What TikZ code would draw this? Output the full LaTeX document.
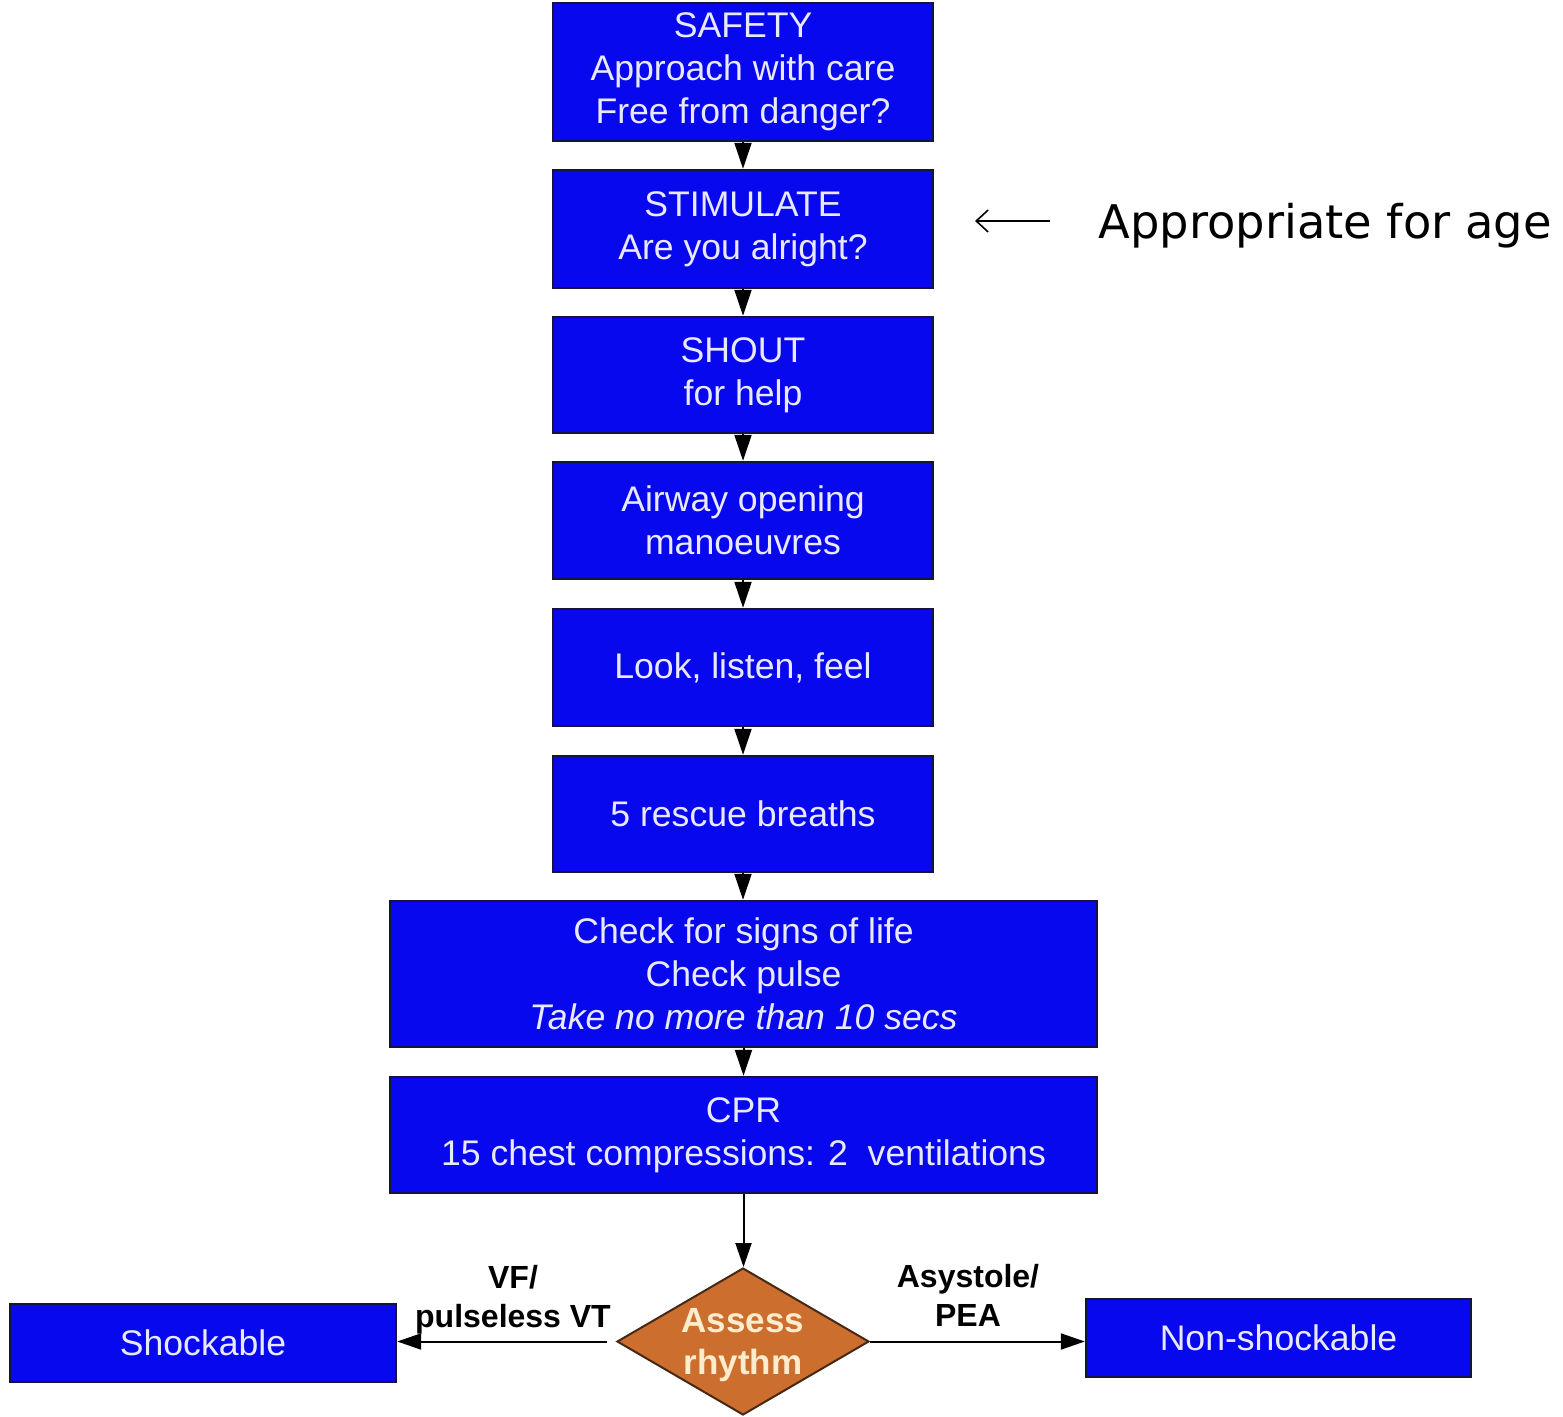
\documentclass[tikz,border=0pt]{standalone}
\usepackage{fontspec}
\setmainfont{Liberation Sans}
\newfontfamily\agefont{DejaVu Sans}
\usetikzlibrary{shapes.geometric,arrows.meta}
\definecolor{boxblue}{RGB}{8,8,238}
\definecolor{boxtext}{RGB}{232,232,255}
\definecolor{boxedge}{RGB}{20,20,60}
\definecolor{dfill}{RGB}{204,110,46}
\definecolor{dedge}{RGB}{70,40,20}
\definecolor{dtext}{RGB}{255,236,205}
\tikzset{
  stepbox/.style={draw=boxedge, line width=1.2pt, fill=boxblue, text=boxtext, inner sep=0pt,
    align=center, font=\fontsize{17.8}{21.5}\selectfont},
  flow/.style={line width=1pt, -{Triangle[width=8.5pt,length=13pt]}},
  side/.style={line width=1pt, -{Triangle[width=8pt,length=12pt]}},
  lbl/.style={align=center, font=\bfseries\fontsize{16}{19.5}\selectfont, inner sep=0pt}
}
\begin{document}
\begin{tikzpicture}[x=0.5pt,y=-0.5pt]
\useasboundingbox (0,0) rectangle (1563,1417);
\node[stepbox, minimum width=190pt, minimum height=69pt] (safety) at (743,72)
  {SAFETY\\Approach with care\\Free from danger?};
\node[stepbox, minimum width=190pt, minimum height=59pt] (stim) at (743,229)
  {STIMULATE\\Are you alright?};
\node[stepbox, minimum width=190pt, minimum height=58pt] (shout) at (743,375)
  {SHOUT\\for help};
\node[stepbox, minimum width=190pt, minimum height=58.5pt] (airway) at (743,520.5)
  {Airway opening\\manoeuvres};
\node[stepbox, minimum width=190pt, minimum height=58.5pt] (look) at (743,667.5)
  {Look, listen, feel};
\node[stepbox, minimum width=190pt, minimum height=58pt] (rescue) at (743,814)
  {5 rescue breaths};
\node[stepbox, minimum width=353.5pt, minimum height=73pt] (check) at (743.5,974)
  {Check for signs of life\\Check pulse\\\textit{Take no more than 10 secs}};
\node[stepbox, minimum width=353.5pt, minimum height=58pt] (cpr) at (743.5,1135)
  {CPR\\15 chest compressions: 2~~ventilations};
\node[diamond, draw=dedge, line width=1pt, fill=dfill, minimum width=126pt, minimum height=73.5pt,
  inner sep=0pt, label={[text=dtext, align=center, font=\bfseries\fontsize{17.5}{21}\selectfont, yshift=-2pt]center:Assess\\rhythm}]
  (assess) at (743,1341.5) {};
\node[stepbox, minimum width=193pt, minimum height=39pt] (shock) at (203,1343) {Shockable};
\node[stepbox, minimum width=192.5pt, minimum height=39pt] (nonshock) at (1278.5,1338) {Non-shockable};

\draw[flow] (safety) -- (stim);
\draw[flow] (stim) -- (shout);
\draw[flow] (shout) -- (airway);
\draw[flow] (airway) -- (look);
\draw[flow] (look) -- (rescue);
\draw[flow] (rescue.south) -- (rescue.south |- check.north);
\draw[flow] (check.south) -- (check.south |- cpr.north);
\draw[side] (cpr.south) -- (cpr.south |- assess.north);
\draw[side, shorten <=4.5pt] (assess.west) -- (assess.west -| shock.east);
\draw[side] (assess.east) -- (assess.east -| nonshock.west);

\node[lbl] (vf) at (513,1300) {VF/\\pulseless VT};
\node[lbl] (asy) at (968,1295) {Asystole/\\PEA};

\node[anchor=base west, inner sep=0pt, font=\agefont\fontsize{23.2}{28}\selectfont] (age) at (1098,239) {Appropriate for age};
\coordinate (agetail) at (1050,221);
\coordinate (agetip) at (975,221);
\draw[line width=0.8pt, -{Straight Barb[length=6pt,width=11pt]}] (agetail) -- (agetip);
\end{tikzpicture}
\end{document}
